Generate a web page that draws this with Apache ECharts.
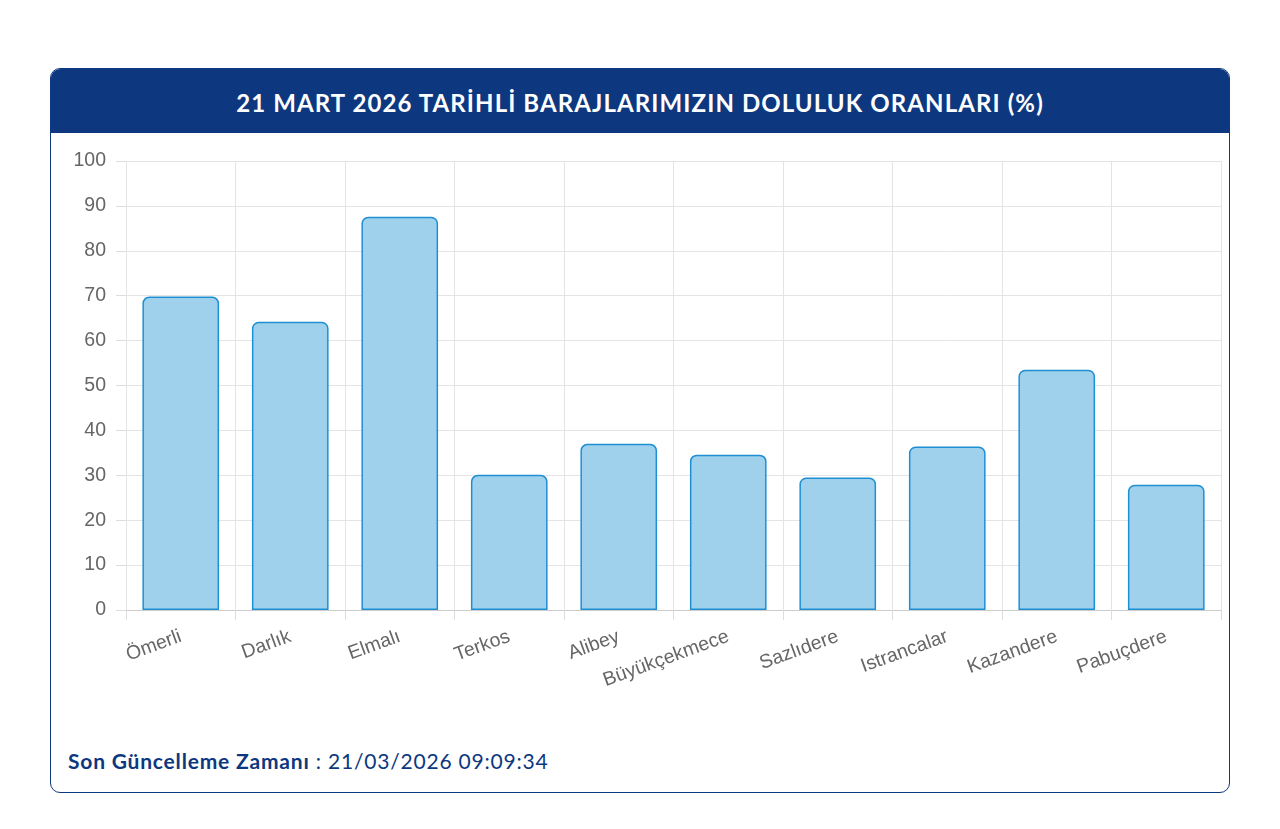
<!DOCTYPE html>
<html>
<head>
<meta charset="utf-8">
<script src="https://cdn.jsdelivr.net/npm/echarts@6/dist/echarts.min.js"></script>
<style>
body{margin:0;background:#fff;font-family:"Lato",sans-serif;}
.card{position:absolute;left:50px;top:68px;width:1178px;height:723px;border:1px solid #0d3880;border-radius:10px;overflow:hidden;}
.head{height:64px;background:#0d3880;color:#fff;font-weight:700;font-size:24px;letter-spacing:1.1px;line-height:68px;text-align:center;}
#chart{position:absolute;left:0;top:64px;width:1178px;height:600px;}
.foot{position:absolute;left:17px;top:679px;font-size:21px;letter-spacing:0.8px;color:#0d3880;}
.foot b{font-weight:700;}
</style>
</head>
<body>
<div class="card">
  <div class="head">21 MART 2026 TARİHLİ BARAJLARIMIZIN DOLULUK ORANLARI (%)</div>
  <div id="chart"></div>
  <div class="foot"><b>Son Güncelleme Zamanı</b> : 21/03/2026 09:09:34</div>
</div>
<script>
var dams = ['Ömerli','Darlık','Elmalı','Terkos','Alibey','Büyükçekmece','Sazlıdere','Istrancalar','Kazandere','Pabuçdere'];
var rates = [69.8, 64.2, 87.6, 30.1, 37.0, 34.6, 29.5, 36.4, 53.5, 27.9];

var dom = document.getElementById('chart');
var myChart = echarts.init(dom);
var option = {
    grid: { left: 75, right: 8, top: 28, bottom: 123 },
    xAxis: {
        type: 'category',
        data: dams,
        axisLine: { lineStyle: { color: '#ccc' } },
        axisTick: { show: true, length: 10, lineStyle: { color: '#ddd' } },
        splitLine: { show: true, lineStyle: { color: '#e4e4e4' } },
        axisLabel: { rotate: 20, color: '#666', fontSize: 19.5, fontFamily: 'Liberation Sans', margin: 26 }
    },
    yAxis: {
        type: 'value',
        min: 0, max: 100, interval: 10,
        axisLine: { show: false },
        axisTick: { show: true, length: 10, lineStyle: { color: '#ddd' } },
        splitLine: { lineStyle: { color: '#e4e4e4' } },
        axisLabel: { color: '#666', fontSize: 19.5, fontFamily: 'Liberation Sans', margin: 20 }
    },
    series: [{
        type: 'bar',
        data: rates,
        barWidth: '70%',
        itemStyle: { color: '#9fd0ec', borderColor: '#1f8fd4', borderWidth: 1.5, borderRadius: [6,6,0,0] }
    }]
};
myChart.setOption(option, true);
</script>
</body>
</html>
